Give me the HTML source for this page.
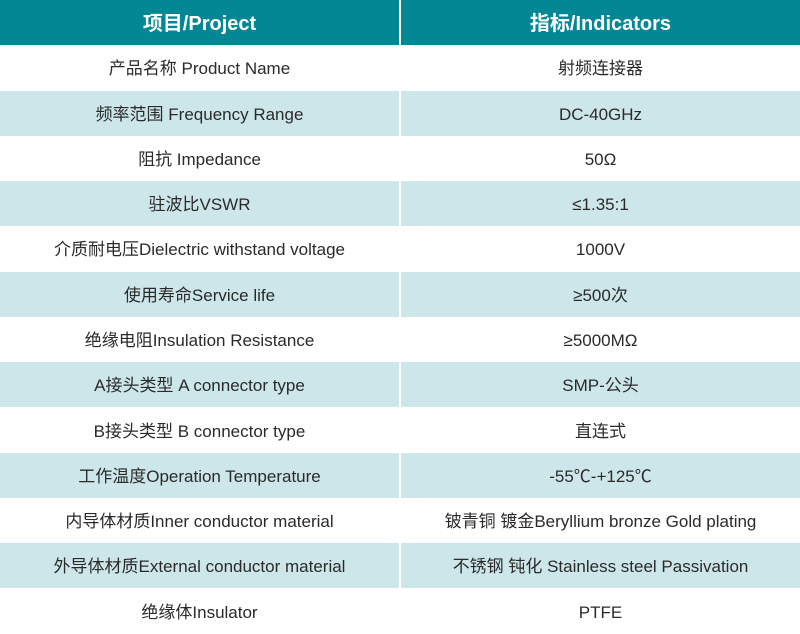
<!DOCTYPE html>
<html><head><meta charset="utf-8"><style>
html,body{margin:0;padding:0;background:#fff;width:800px;height:634px;overflow:hidden}
.t{font-family:"Liberation Sans","Noto Sans CJK SC",sans-serif;}
.r{display:flex;height:45.28px}
.c{flex:0 0 399px;display:flex;align-items:center;justify-content:center;font-size:17px;color:#2a2a2a;line-height:20px}
.c span{display:block;height:20px;line-height:20px;position:relative;top:1.5px}
.c+.c{flex:0 0 399px;margin-left:2px}
.h .c{background:#038794;color:#fff;font-size:20px;font-weight:bold}
.b .c{background:#cde6ea}
</style></head><body class="t">
<div class="r h"><div class="c"><span>项目/Project</span></div><div class="c"><span>指标/Indicators</span></div></div>
<div class="r"><div class="c"><span>产品名称 Product Name</span></div><div class="c"><span>射频连接器</span></div></div>
<div class="r b"><div class="c"><span>频率范围 Frequency Range</span></div><div class="c"><span>DC-40GHz</span></div></div>
<div class="r"><div class="c"><span>阻抗 Impedance</span></div><div class="c"><span>50Ω</span></div></div>
<div class="r b"><div class="c"><span>驻波比VSWR</span></div><div class="c"><span>≤1.35:1</span></div></div>
<div class="r"><div class="c"><span>介质耐电压Dielectric withstand voltage</span></div><div class="c"><span>1000V</span></div></div>
<div class="r b"><div class="c"><span>使用寿命Service life</span></div><div class="c"><span>≥500次</span></div></div>
<div class="r"><div class="c"><span>绝缘电阻Insulation Resistance</span></div><div class="c"><span>≥5000MΩ</span></div></div>
<div class="r b"><div class="c"><span>A接头类型 A connector type</span></div><div class="c"><span>SMP-公头</span></div></div>
<div class="r"><div class="c"><span>B接头类型 B connector type</span></div><div class="c"><span>直连式</span></div></div>
<div class="r b"><div class="c"><span>工作温度Operation Temperature</span></div><div class="c"><span>-55℃-+125℃</span></div></div>
<div class="r"><div class="c"><span>内导体材质Inner conductor material</span></div><div class="c"><span>铍青铜 镀金Beryllium bronze Gold plating</span></div></div>
<div class="r b"><div class="c"><span>外导体材质External conductor material</span></div><div class="c"><span>不锈钢 钝化 Stainless steel Passivation</span></div></div>
<div class="r"><div class="c"><span>绝缘体Insulator</span></div><div class="c"><span>PTFE</span></div></div>
</body></html>
